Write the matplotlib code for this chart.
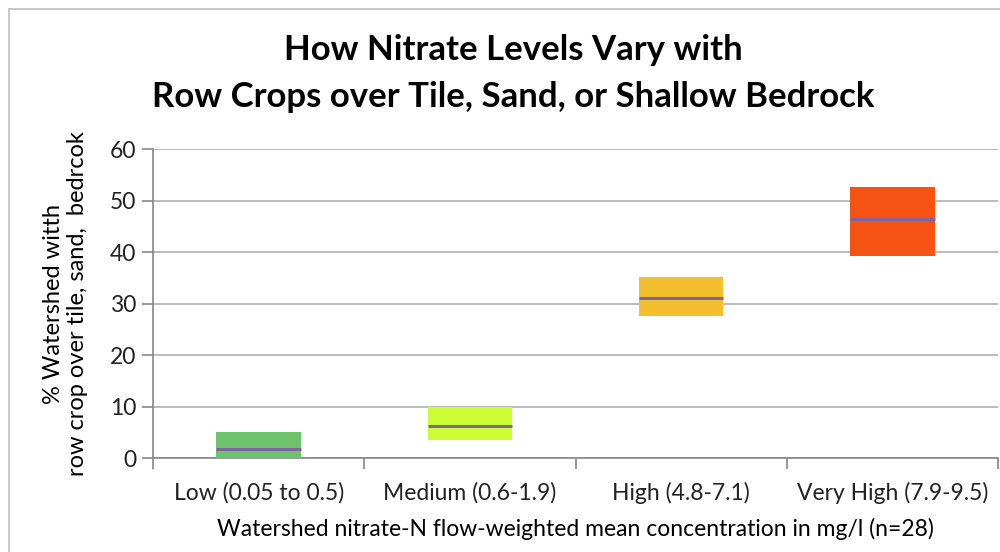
import matplotlib.pyplot as plt
from matplotlib.patches import Rectangle

categories = ['Low (0.05 to 0.5)', 'Medium (0.6-1.9)', 'High (4.8-7.1)', 'Very High (7.9-9.5)']
box_low = [0.0, 3.6, 27.6, 39.3]
box_high = [5.0, 10.0, 35.1, 52.6]
medians = [1.7, 6.3, 31.1, 46.4]
colors = ['#6DC36B', '#CCFF33', '#F2C02E', '#F55214']

plt.rcParams['font.family'] = ['Lato', 'DejaVu Sans']

fig = plt.figure(figsize=(10, 5.52), dpi=100)
ax = fig.add_axes([0.153, 0.170, 0.845, 0.560])

# chart border like the spreadsheet export
fig.patches.append(Rectangle((0.009, -0.01), 1.5, 0.994, transform=fig.transFigure,
                             fill=False, edgecolor='#BFBFBF', linewidth=1.2))

x = list(range(len(categories)))
heights = [h - l for l, h in zip(box_low, box_high)]
ax.bar(x, heights, bottom=box_low, width=0.4, color=colors, zorder=3)
ax.hlines(medians, [i - 0.2 for i in x], [i + 0.2 for i in x], color='#8064A2', linewidth=2.2, zorder=4)

ax.set_xlim(-0.5, 3.5)
ax.set_ylim(0, 60)
ax.set_yticks(range(0, 61, 10))
ax.set_xticks(x)
ax.set_xticklabels(categories)
ax.set_xticks([-0.5, 0.5, 1.5, 2.5, 3.5], minor=True)
ax.tick_params(axis='x', which='major', length=0, labelsize=16.5, pad=17, labelcolor='#222222')
ax.tick_params(axis='x', which='minor', length=8, color='#868686', width=1.2)
ax.tick_params(axis='y', length=8, color='#868686', width=1.2, labelsize=16.5, labelcolor='#222222', pad=4)

ax.grid(axis='y', color='#B0B0B0', linewidth=1.2, zorder=0)
for s in ['top', 'right']:
    ax.spines[s].set_visible(False)
ax.spines['left'].set_color('#868686')
ax.spines['bottom'].set_color('#868686')
ax.spines['left'].set_linewidth(1.2)
ax.spines['bottom'].set_linewidth(1.2)

ax.set_ylabel('% Watershed witth\nrow crop over tile, sand,  bedrcok', fontsize=17, labelpad=16, linespacing=1.15)
ax.set_xlabel('Watershed nitrate-N flow-weighted mean concentration in mg/l (n=28)', fontsize=16.5, labelpad=10)

fig.text(0.513, 0.910, 'How Nitrate Levels Vary with', ha='center', va='center', fontsize=25, fontweight='bold')
fig.text(0.513, 0.825, 'Row Crops over Tile, Sand, or Shallow Bedrock', ha='center', va='center', fontsize=25, fontweight='bold')

plt.savefig('out.png', dpi=100)
